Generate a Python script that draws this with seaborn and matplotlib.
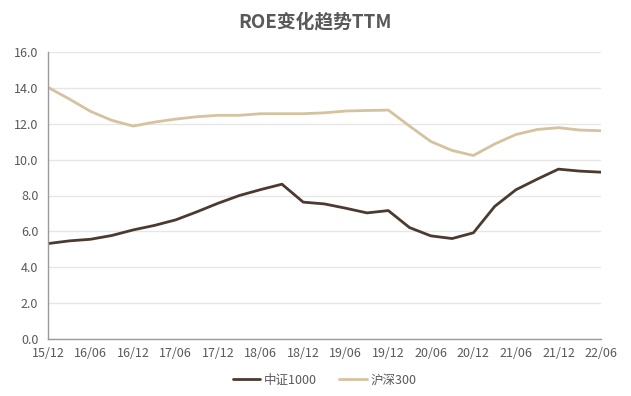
import matplotlib
matplotlib.use("Agg")
import matplotlib.pyplot as plt
import seaborn as sns
import pandas as pd
import numpy as np

periods = ["15/12","16/03","16/06","16/09","16/12","17/03","17/06","17/09","17/12",
           "18/03","18/06","18/09","18/12","19/03","19/06","19/09","19/12",
           "20/03","20/06","20/09","20/12","21/03","21/06","21/09","21/12","22/03","22/06"]
csi1000 = [5.32,5.47,5.56,5.77,6.08,6.33,6.64,7.09,7.57,8.00,8.33,8.63,7.63,7.53,7.29,7.03,7.16,
           6.21,5.75,5.60,5.92,7.39,8.32,8.91,9.47,9.36,9.30]
hs300 = [14.03,13.38,12.69,12.19,11.87,12.09,12.26,12.39,12.47,12.47,12.56,12.56,12.56,12.61,12.71,12.74,12.76,
         11.87,11.01,10.51,10.23,10.87,11.40,11.68,11.78,11.65,11.61]
series_names = ["中证1000", "沪深300"]
colors = ["#4b3a30", "#d5c29f"]

df = pd.DataFrame({
    "idx": list(range(len(periods))) * 2,
    "value": csi1000 + hs300,
    "series": [series_names[0]] * len(periods) + [series_names[1]] * len(periods),
})

sns.set_theme(style="white")
plt.rcParams['font.family'] = ['Noto Sans CJK SC', 'DejaVu Sans']

fig = plt.figure(figsize=(6.31, 3.96), dpi=100)
ax = fig.add_axes([48/631, 1-339/396, (601-48)/631, (339-52)/396])

sns.lineplot(data=df, x="idx", y="value", hue="series", palette=colors, ax=ax, linewidth=2.0, legend=True)

ax.set_xlim(0, len(periods) - 1)
ax.set_ylim(0, 16)
ax.set_yticks(np.arange(0, 16.1, 2))
ax.set_yticklabels([f"{v:.1f}" for v in np.arange(0, 16.1, 2)])
ax.set_xticks(range(len(periods)))
ax.set_xticklabels([p if i % 2 == 0 else "" for i, p in enumerate(periods)])
ax.tick_params(axis="x", length=4, width=0.8, color="#8c8c8c", colors="#595959", labelsize=9, pad=2)
ax.tick_params(axis="y", length=0, colors="#595959", labelsize=9, pad=7)
ax.grid(axis="y", color="#e6e6e6", linewidth=1)
ax.set_axisbelow(True)
for s in ["top", "right"]:
    ax.spines[s].set_visible(False)
ax.spines["left"].set_color("#9a9a9a")
ax.spines["bottom"].set_color("#9a9a9a")
ax.spines["left"].set_linewidth(1)
ax.spines["bottom"].set_linewidth(1)
ax.set_xlabel("")
ax.set_ylabel("")

fig.text(0.5, 1 - 22/396, "ROE变化趋势TTM", ha="center", va="center", fontsize=13.5, fontweight="bold", color="#595959")

leg = ax.legend(loc="center", bbox_to_anchor=(0.5, (339-380)/287), ncol=2, frameon=False, fontsize=9,
                handlelength=2.2, handletextpad=0.3, columnspacing=1.8)
for t in leg.get_texts():
    t.set_color("#595959")

fig.savefig("out.png", dpi=100)
